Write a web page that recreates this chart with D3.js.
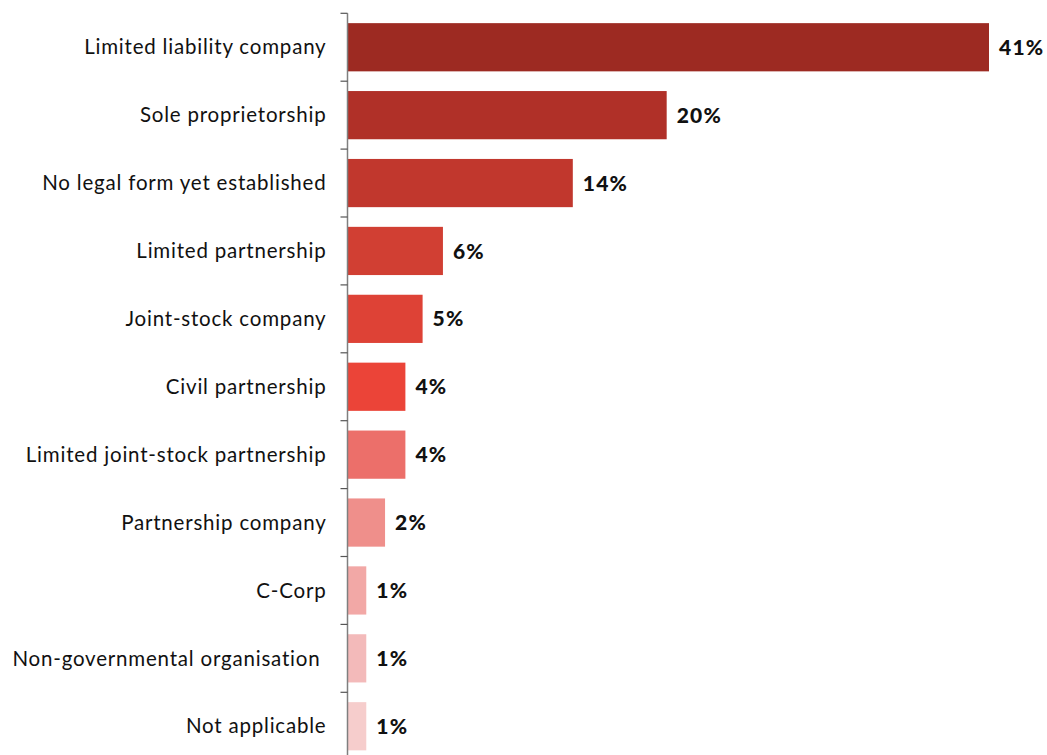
<!DOCTYPE html>
<html>
<head>
<meta charset="utf-8">
<script src="https://cdn.jsdelivr.net/npm/d3@7"></script>
<style>
  html, body { margin: 0; padding: 0; background: #ffffff; }
  svg { display: block; }
</style>
</head>
<body>
<svg id="chart" width="1047" height="755"></svg>
<script>
// Legal form of the companies surveyed (share of respondents, %)
const categories = [
  "Limited liability company",
  "Sole proprietorship",
  "No legal form yet established",
  "Limited partnership",
  "Joint-stock company",
  "Civil partnership",
  "Limited joint-stock partnership",
  "Partnership company",
  "C-Corp",
  "Non-governmental organisation\u00a0",
  "Not applicable"
];
const shares = [41.0, 20.4, 14.4, 6.1, 4.8, 3.7, 3.7, 2.4, 1.2, 1.2, 1.2];
const barColors = [
  "#9d2a22", "#b03028", "#c1372d", "#d13f33", "#de4236", "#eb4438",
  "#ec6f6a", "#ef8f8b", "#f2a8a6", "#f3baba", "#f6cdcc"
];

const svg = d3.select("#chart");
const axisX = 347.5;
const fontFamily = "Lato, 'Open Sans', sans-serif";

const x = d3.scaleLinear().domain([0, 41]).range([axisX, 989]);
const y = d3.scaleBand()
  .domain(categories)
  .range([13.3, 760.2])
  .paddingInner(0.29)
  .paddingOuter(0.145);

const step = y.step();
const data = categories.map((c, i) => ({ name: c, value: shares[i], color: barColors[i] }));

// bars
svg.append("g").selectAll("rect")
  .data(data)
  .join("rect")
  .attr("x", x(0))
  .attr("y", d => y(d.name))
  .attr("width", d => x(d.value) - x(0))
  .attr("height", y.bandwidth())
  .attr("fill", d => d.color);

// vertical axis line with ticks at category boundaries
const axis = svg.append("g");
const bounds = categories.map(c => y(c) - step * y.paddingInner() / 2);
axis.append("line")
  .attr("x1", axisX).attr("x2", axisX)
  .attr("y1", bounds[0]).attr("y2", 760)
  .attr("stroke", "#7f7f7f").attr("stroke-width", 1.5);
axis.selectAll("line.tick")
  .data(bounds)
  .join("line")
  .attr("class", "tick")
  .attr("x1", axisX - 7).attr("x2", axisX)
  .attr("y1", d => d).attr("y2", d => d)
  .attr("stroke", "#555555").attr("stroke-width", 1.2);

// category labels
svg.append("g").selectAll("text")
  .data(data)
  .join("text")
  .attr("x", axisX - 21)
  .attr("y", d => y(d.name) + y.bandwidth() / 2)
  .attr("dy", "0.35em")
  .attr("text-anchor", "end")
  .attr("font-family", fontFamily)
  .attr("font-size", 20.5)
  .attr("letter-spacing", "0.8px")
  .attr("fill", "#111111")
  .text(d => d.name);

// value labels
svg.append("g").selectAll("text")
  .data(data)
  .join("text")
  .attr("x", d => x(d.value) + 10)
  .attr("y", d => y(d.name) + y.bandwidth() / 2)
  .attr("dy", "0.36em")
  .attr("font-family", fontFamily)
  .attr("font-weight", 900)
  .attr("font-size", 21)
  .attr("letter-spacing", "1.2px")
  .attr("fill", "#111111")
  .text(d => Math.round(d.value) + "%");
</script>
</body>
</html>
